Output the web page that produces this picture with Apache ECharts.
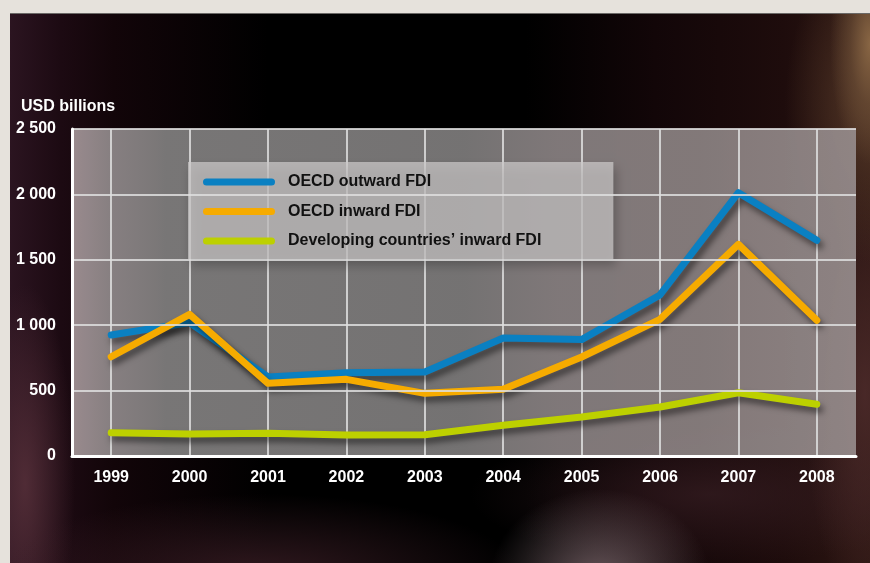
<!DOCTYPE html>
<html>
<head>
<meta charset="utf-8">
<script src="https://cdn.jsdelivr.net/npm/echarts@6/dist/echarts.min.js"></script>
<style>
  html, body { margin: 0; padding: 0; width: 870px; height: 563px; background: #e6e2dc; overflow: hidden; }
  #panel {
    position: absolute; left: 10px; top: 13px; width: 860px; height: 550px;
    border-top: 1px solid #6a6866;
    background:
      radial-gradient(ellipse 40px 120px at 860px 30px, rgba(140,105,70,0.95), rgba(110,80,55,0.6) 50%, rgba(0,0,0,0) 100%),
      radial-gradient(ellipse 90px 160px at 865px 90px, rgba(95,65,45,0.8), rgba(0,0,0,0) 100%),
      radial-gradient(ellipse 60px 220px at 855px 380px, rgba(80,45,45,0.8), rgba(0,0,0,0) 100%),
      radial-gradient(ellipse 110px 90px at 590px 565px, rgba(125,105,110,0.8), rgba(0,0,0,0) 100%),
      radial-gradient(ellipse 260px 80px at 250px 560px, rgba(60,30,38,0.8), rgba(0,0,0,0) 100%),
      radial-gradient(ellipse 50px 200px at 15px 470px, rgba(90,50,60,0.8), rgba(0,0,0,0) 100%),
      radial-gradient(ellipse 240px 70px at 700px 480px, rgba(55,30,35,0.7), rgba(0,0,0,0) 100%),
      linear-gradient(to right, #2b1420 0%, #1c0a12 6%, #120509 12%, #000000 30%, #000000 60%, #120608 75%, #1e0c0c 90%, #2c1612 100%);
  }
  #chart { position: absolute; left: 0; top: 0; width: 860px; height: 550px; }
</style>
</head>
<body>
<div id="panel"><div id="chart"></div></div>
<script>
const years = ['1999','2000','2001','2002','2003','2004','2005','2006','2007','2008'];
const oecdOutward = [925, 1020, 604, 637, 642, 902, 890, 1231, 2013, 1649];
const oecdInward = [759, 1083, 556, 586, 479, 510, 757, 1045, 1618, 1037];
const developingInward = [178, 168, 173, 160, 163, 235, 298, 375, 484, 395];
const yTicks = [0, 500, 1000, 1500, 2000, 2500];
const yTickLabels = ['0', '500', '1 000', '1 500', '2 000', '2 500'];

const FONT = '"Liberation Sans", Arial, sans-serif';
const chart = echarts.init(document.getElementById('chart'));

const G_LEFT = 62, G_RIGHT = 14, G_TOP = 115, G_BOTTOM = 108;
const halfBand = (860 - G_LEFT - G_RIGHT) / years.length / 2;
const gridLine = { color: 'rgba(222,222,222,0.85)', width: 2 };

function lineSeries(name, data, color) {
  return {
    name: name, type: 'line', data: data, xAxisIndex: 0, yAxisIndex: 0,
    symbol: 'none', smooth: false,
    lineStyle: {
      color: color, width: 7, cap: 'round', join: 'round',
      shadowColor: 'rgba(0,0,0,0.5)', shadowBlur: 6, shadowOffsetX: 3, shadowOffsetY: 5
    },
    itemStyle: { color: color },
    z: 3
  };
}

chart.setOption({
  backgroundColor: 'transparent',
  animation: false,
  title: {
    text: 'USD billions', left: 6, top: 80,
    textStyle: { color: '#ffffff', fontFamily: FONT, fontWeight: 'bold', fontSize: 16 }
  },
  grid: [
    {
      left: G_LEFT, right: G_RIGHT, top: G_TOP, bottom: G_BOTTOM, show: true, borderWidth: 0, z: 0,
      backgroundColor: new echarts.graphic.LinearGradient(0, 0, 1, 0, [
        { offset: 0, color: 'rgba(165,150,152,0.92)' },
        { offset: 0.05, color: 'rgba(145,138,140,0.92)' },
        { offset: 0.12, color: 'rgba(130,128,128,0.92)' },
        { offset: 0.5, color: 'rgba(126,124,124,0.92)' },
        { offset: 0.62, color: 'rgba(138,130,131,0.92)' },
        { offset: 0.8, color: 'rgba(140,131,131,0.92)' },
        { offset: 1, color: 'rgba(150,140,140,0.92)' }
      ])
    },
    { left: G_LEFT + halfBand, right: G_RIGHT + halfBand, top: G_TOP, bottom: G_BOTTOM, show: false }
  ],
  legend: {
    orient: 'vertical', left: 178, top: 148,
    data: ['OECD outward FDI', 'OECD inward FDI', 'Developing countries\u2019 inward FDI'],
    icon: 'path://M3.5,0 H68.5 A3.5,3.5 0 0 1 68.5,7 H3.5 A3.5,3.5 0 0 1 3.5,0 Z',
    itemWidth: 72, itemHeight: 7, itemGap: 7.5,
    padding: [9, 72, 7, 15],
    backgroundColor: 'rgba(205,203,203,0.72)',
    shadowColor: 'rgba(0,0,0,0.35)', shadowBlur: 10, shadowOffsetX: 3, shadowOffsetY: 6,
    textStyle: { color: '#111111', fontFamily: FONT, fontWeight: 'bold', fontSize: 16, lineHeight: 22, padding: [0, 0, 0, 8] },
    selectedMode: false
  },
  xAxis: [
    {
      gridIndex: 0, type: 'category', data: years, boundaryGap: true,
      axisLine: { show: true, lineStyle: { color: '#ffffff', width: 3 } },
      axisTick: { show: false },
      splitLine: { show: false },
      axisLabel: { color: '#ffffff', fontFamily: FONT, fontWeight: 'bold', fontSize: 16, margin: 14 },
      z: 5
    },
    {
      gridIndex: 1, type: 'value', min: 0, max: years.length - 1, interval: 1,
      axisLine: { show: false }, axisTick: { show: false }, axisLabel: { show: false },
      splitLine: { show: true, lineStyle: gridLine }
    }
  ],
  yAxis: [
    {
      gridIndex: 0, type: 'value', min: yTicks[0], max: yTicks[yTicks.length - 1], interval: 500,
      axisLine: { show: true, lineStyle: { color: '#ffffff', width: 3 } },
      axisTick: { show: false },
      splitLine: { show: true, lineStyle: gridLine },
      axisLabel: {
        color: '#ffffff', fontFamily: FONT, fontWeight: 'bold', fontSize: 16, margin: 16,
        formatter: function (v) { const i = yTicks.indexOf(v); return i >= 0 ? yTickLabels[i] : ''; }
      },
      z: 5
    },
    {
      gridIndex: 1, type: 'value', min: 0, max: 1, show: false
    }
  ],
  series: [
    lineSeries('OECD outward FDI', oecdOutward, '#0a80c2'),
    lineSeries('OECD inward FDI', oecdInward, '#f6ab00'),
    lineSeries('Developing countries\u2019 inward FDI', developingInward, '#bdd000')
  ]
});
</script>
</body>
</html>
